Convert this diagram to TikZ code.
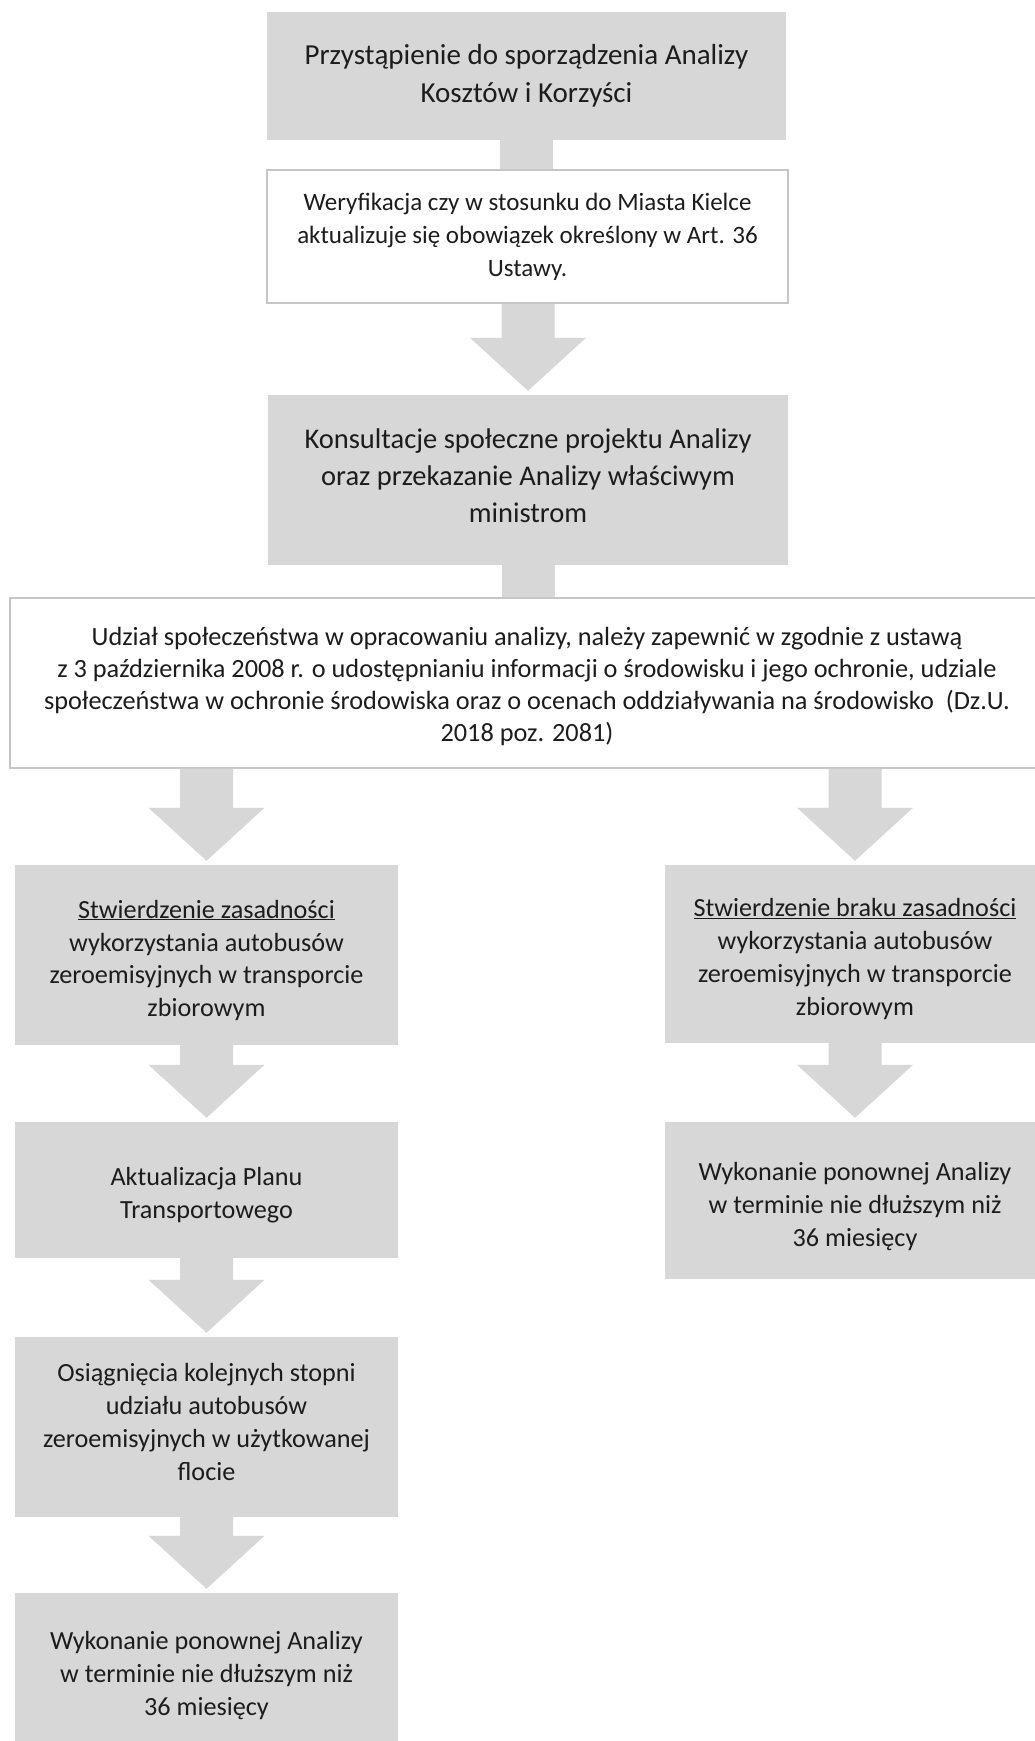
\documentclass[tikz,border=0pt]{standalone}
\usepackage{fontspec}
\setmainfont{Carlito}
\usetikzlibrary{calc}
\definecolor{boxgray}{RGB}{215,215,215}
\definecolor{edgegray}{RGB}{198,198,198}
\definecolor{txt}{RGB}{28,28,28}
\tikzset{
  graybox/.style={fill=boxgray, draw=none, inner sep=0pt},
  whitebox/.style={fill=white, draw=edgegray, line width=1.5pt, inner sep=0pt},
  label text/.style={align=center, text=txt, inner sep=0pt},
  big/.style={font=\fontsize{29}{38}\selectfont},
  mid/.style={font=\fontsize{26.2}{33}\selectfont},
}
\newcommand\blockarrow[2]{%
  \fill[boxgray] let \p1=(#1.south), \p2=(#2.north) in
  (\x2-26.5pt,\y1) -- (\x2-26.5pt,\y2+57pt) -- (\x2-58pt,\y2+57pt) -- (\x2,\y2+4pt)
  -- (\x2+58pt,\y2+57pt) -- (\x2+26.5pt,\y2+57pt) -- (\x2+26.5pt,\y1) -- cycle;}
\newcommand\stemarrow[2]{%
  \fill[boxgray] let \p1=(#1.south), \p2=(#2.north) in
  (\x1-26.5pt,\y1) rectangle (\x1+26.5pt,\y2);}
\begin{document}
\begin{tikzpicture}[x=1pt,y=-1pt]
\useasboundingbox (0,0) rectangle (1035,1741);
\clip (0,0) rectangle (1035,1741);
\fill[white] (0,0) rectangle (1035,1741);

% boxes
\node[graybox,  minimum width=519pt,  minimum height=128pt] (b1)  at (526.5,76) {};
\node[whitebox, minimum width=521pt,  minimum height=133pt] (b2)  at (527.5,236.5) {};
\node[graybox,  minimum width=520pt,  minimum height=170pt] (b3)  at (528,480) {};
\node[whitebox, minimum width=1034pt, minimum height=170pt] (b4)  at (527,683) {};
\node[graybox,  minimum width=383pt,  minimum height=180pt] (b5)  at (206.5,955) {};
\node[graybox,  minimum width=380pt,  minimum height=178pt] (b6)  at (855,954) {};
\node[graybox,  minimum width=383pt,  minimum height=136pt] (b7)  at (206.5,1190) {};
\node[graybox,  minimum width=380pt,  minimum height=157pt] (b8)  at (855,1200.5) {};
\node[graybox,  minimum width=383pt,  minimum height=180pt] (b9)  at (206.5,1427) {};
\node[graybox,  minimum width=383pt,  minimum height=164pt] (b10) at (206.5,1675) {};

% texts
\node[label text, big] (t1) at ($(b1.center)+(0,0)$)
  {Przystąpienie do sporządzenia Analizy\\Kosztów i Korzyści};
\node[label text, font=\fontsize{25}{33}\selectfont] (t2) at ($(b2.center)+(0,0)$)
  {Weryfikacja czy w stosunku do Miasta Kielce\\aktualizuje się obowiązek określony w Art. 36\\Ustawy.};
\node[label text, font=\fontsize{28.5}{37}\selectfont] (t3) at ($(b3.center)+(0,-4.4)$)
  {Konsultacje społeczne projektu Analizy\\oraz przekazanie Analizy właściwym\\ministrom};
\node[label text, font=\fontsize{26.3}{32}\selectfont] (t4) at ($(b4.center)+(0,3.3)$)
  {Udział społeczeństwa w opracowaniu analizy, należy zapewnić w zgodnie z ustawą\\
   z 3 października 2008 r. o udostępnianiu informacji o środowisku i jego ochronie, udziale\\
   społeczeństwa w ochronie środowiska oraz o ocenach oddziaływania na środowisko~ (Dz.U.\\
   2018 poz. 2081)};
\node[label text, mid] (t5) at ($(b5.center)+(0,5.5)$)
  {\underline{Stwierdzenie zasadności}\\wykorzystania autobusów\\zeroemisyjnych w transporcie\\zbiorowym};
\node[label text, mid] (t6) at ($(b6.center)+(0,5.5)$)
  {\underline{Stwierdzenie braku zasadności}\\wykorzystania autobusów\\zeroemisyjnych w transporcie\\zbiorowym};
\node[label text, mid] (t7) at ($(b7.center)+(0,5.5)$)
  {Aktualizacja Planu\\Transportowego};
\node[label text, mid] (t8) at ($(b8.center)+(0,5.5)$)
  {Wykonanie ponownej Analizy\\w terminie nie dłuższym niż\\36 miesięcy};
\node[label text, mid] (t9) at ($(b9.center)+(0,-5.5)$)
  {Osiągnięcia kolejnych stopni\\udziału autobusów\\zeroemisyjnych w użytkowanej\\flocie};
\node[label text, mid] (t10) at ($(b10.center)+(0,0)$)
  {Wykonanie ponownej Analizy\\w terminie nie dłuższym niż\\36 miesięcy};

% connectors
\stemarrow{b1}{b2}
\blockarrow{b2}{b3}
\stemarrow{b3}{b4}
\blockarrow{b4}{b5}
\blockarrow{b4}{b6}
\blockarrow{b5}{b7}
\blockarrow{b6}{b8}
\blockarrow{b7}{b9}
\blockarrow{b9}{b10}
\end{tikzpicture}
\end{document}
